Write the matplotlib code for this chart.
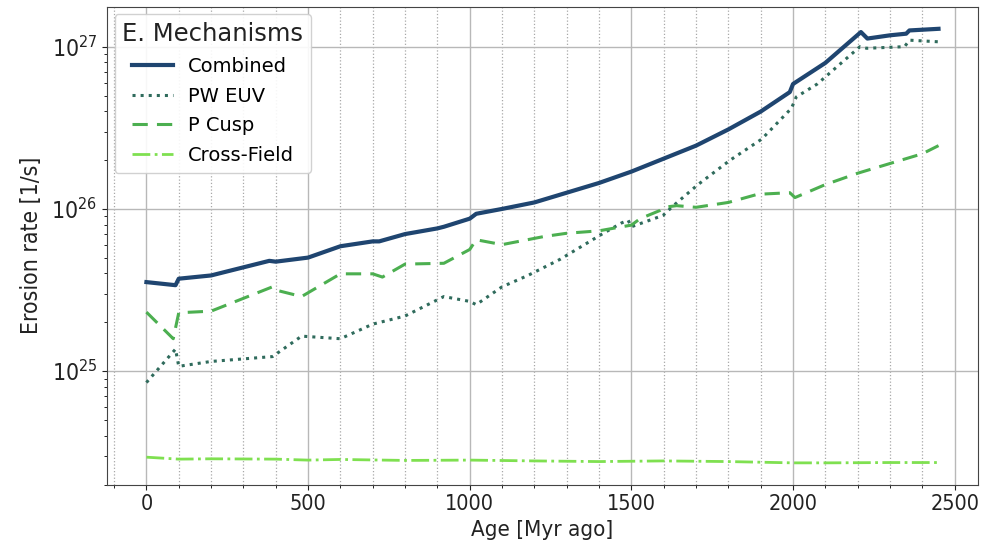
import numpy as np
import matplotlib
matplotlib.use("Agg")
import matplotlib.pyplot as plt
from matplotlib.ticker import MultipleLocator, LogLocator, NullFormatter

# Data (log10 of erosion rate)
age_comb = [0, 90, 100, 200, 300, 380, 400, 500, 600, 700, 720, 800, 900, 920, 1000, 1020, 1100,
            1200, 1300, 1400, 1500, 1600, 1700, 1800, 1900, 1990, 2000, 2100, 2210, 2230, 2300,
            2350, 2360, 2450]
log_comb = [25.549, 25.53, 25.57, 25.59, 25.64, 25.68, 25.675, 25.70, 25.77, 25.80, 25.80, 25.845,
            25.88, 25.89, 25.94, 25.97, 26.00, 26.04, 26.10, 26.16, 26.23, 26.31, 26.39, 26.49,
            26.60, 26.72, 26.77, 26.90, 27.09, 27.05, 27.07, 27.08, 27.10, 27.11]

age_euv = [0, 90, 100, 200, 390, 480, 600, 700, 800, 920, 1000, 1020, 1100, 1180, 1280, 1410,
           1470, 1490, 1500, 1598, 1630, 1665, 1706, 1805, 1903, 1995, 2010, 2075, 2207, 2228,
           2345, 2360, 2450]
log_euv = [24.93, 25.136, 25.03, 25.06, 25.09, 25.216, 25.20, 25.29, 25.34, 25.46, 25.43, 25.41,
           25.52, 25.59, 25.69, 25.846, 25.914, 25.93, 25.89, 25.96, 26.02, 26.08, 26.15, 26.30,
           26.43, 26.62, 26.69, 26.77, 27.00, 26.99, 27.00, 27.04, 27.03]

age_cusp = [0, 83, 100, 200, 390, 400, 480, 600, 700, 730, 800, 920, 1000, 1020, 1100, 1230, 1300,
            1400, 1470, 1500, 1527, 1588, 1600, 1640, 1700, 1800, 1890, 1990, 2006, 2100, 2200,
            2300, 2400, 2450]
log_cusp = [25.364, 25.20, 25.36, 25.37, 25.52, 25.50, 25.46, 25.60, 25.60, 25.58, 25.66, 25.665,
            25.75, 25.81, 25.78, 25.83, 25.85, 25.865, 25.89, 25.90, 25.94, 25.99, 26.01, 26.02,
            26.01, 26.04, 26.09, 26.10, 26.07, 26.15, 26.22, 26.28, 26.34, 26.39]

age_cross = [0, 100, 200, 400, 500, 600, 800, 1000, 1200, 1400, 1600, 1800, 2000, 2100, 2300, 2450]
log_cross = [24.47, 24.458, 24.46, 24.458, 24.452, 24.456, 24.45, 24.452, 24.447, 24.443, 24.447,
             24.443, 24.435, 24.435, 24.437, 24.437]

series = [
    ("Combined", age_comb, log_comb, "#1f4570", "-", 3.0),
    ("PW EUV", age_euv, log_euv, "#2f6b5c", ":", 2.2),
    ("P Cusp", age_cusp, log_cusp, "#4caf50", (0, (5, 3)), 2.2),
    ("Cross-Field", age_cross, log_cross, "#7fe050", "-.", 2.0),
]

fig, ax = plt.subplots(figsize=(9.89, 5.49), dpi=100)
fig.subplots_adjust(left=0.108, right=0.989, top=0.988, bottom=0.117)

for name, x, ly, c, ls, lw in series:
    ax.plot(x, 10 ** np.array(ly), color=c, linestyle=ls, linewidth=lw, label=name)

ax.set_yscale("log")
ax.set_ylim(10 ** 24.30, 10 ** 27.247)
ax.set_xlim(-122.5, 2572.5)
ax.xaxis.set_major_locator(MultipleLocator(500))
ax.xaxis.set_minor_locator(MultipleLocator(100))
ax.yaxis.set_minor_locator(LogLocator(base=10, subs=np.arange(2, 10)))
ax.yaxis.set_minor_formatter(NullFormatter())

ax.grid(which="major", axis="both", color="#b8b8b8", linewidth=1.0)
ax.grid(which="minor", axis="x", color="#a8a8a8", linewidth=0.9, linestyle=":")

ax.tick_params(axis="x", which="major", labelsize=15.5, colors="#222222")
ax.tick_params(axis="y", which="major", labelsize=16.5, colors="#222222")
for lab in ax.get_xticklabels() + ax.get_yticklabels():
    lab.set_fontstretch("condensed")
ax.set_xlabel("Age [Myr ago]", fontsize=16, color="#222222", fontstretch="condensed")
ax.set_ylabel("Erosion rate [1/s]", fontsize=16.5, color="#222222", fontstretch="condensed",
              labelpad=6)
for s in ax.spines.values():
    s.set_color("#444444")

leg = ax.legend(title="E. Mechanisms", loc="upper left", fontsize=14, title_fontsize=17.5,
                framealpha=0.9, borderaxespad=0.4, handlelength=2.1, labelspacing=0.55)
leg.get_title().set_color("#222222")

fig.savefig("out.png", dpi=100)
